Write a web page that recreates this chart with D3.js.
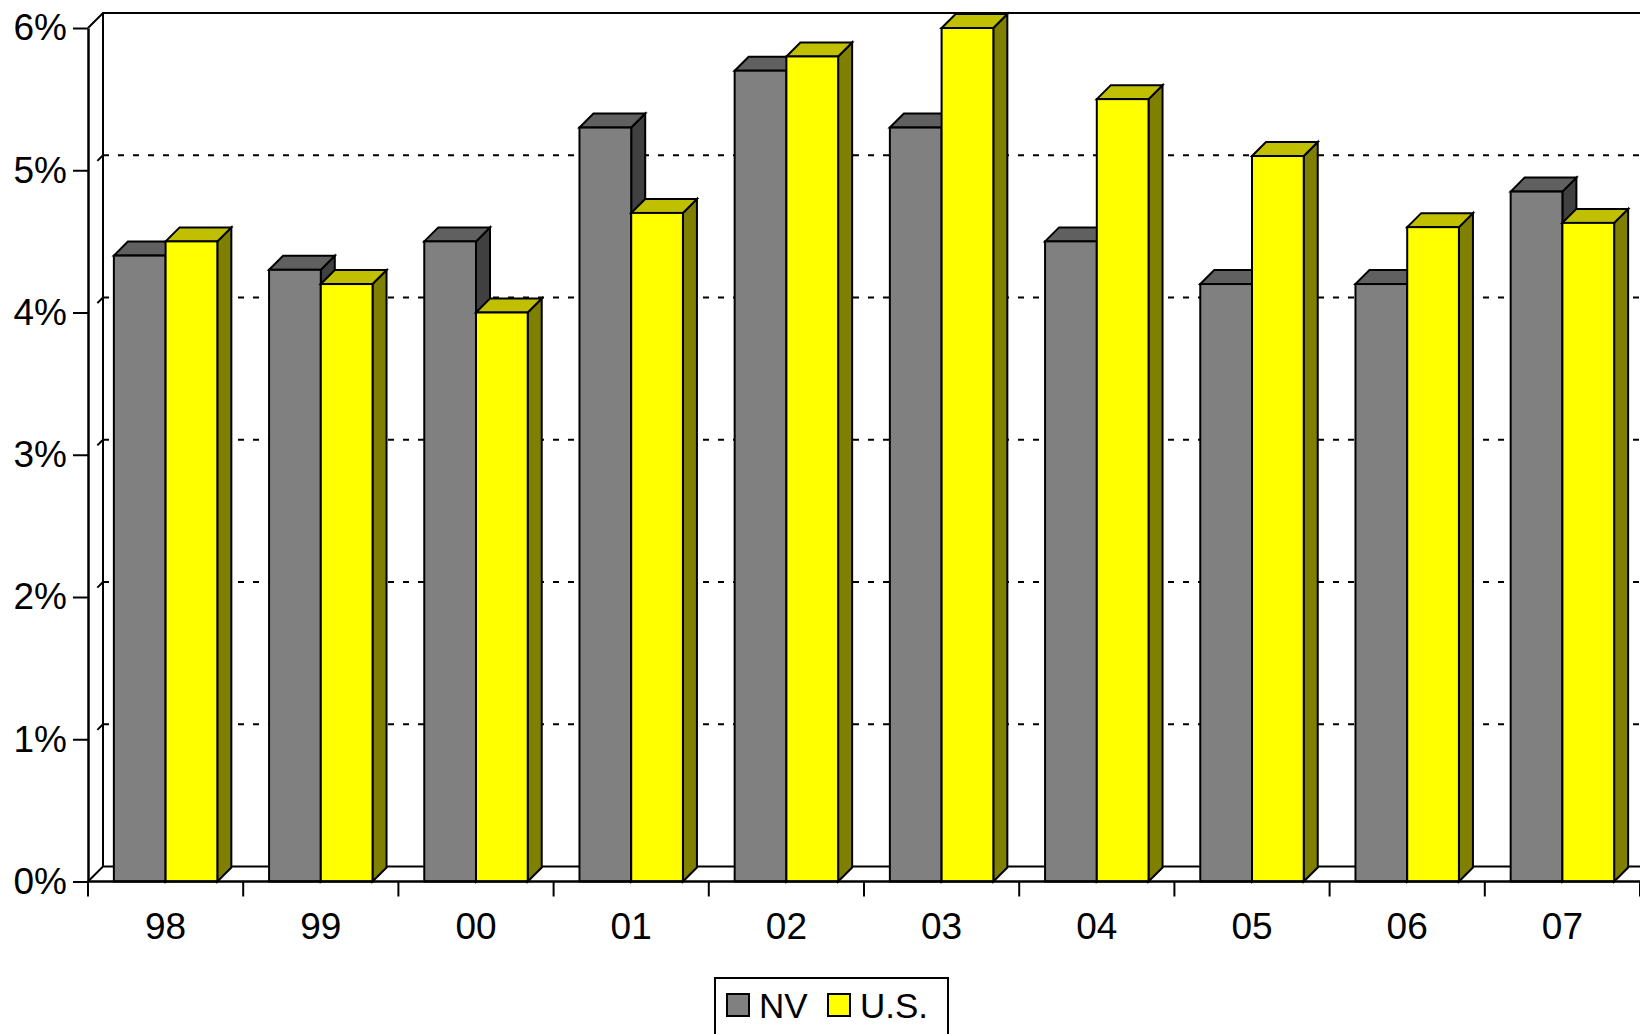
<!DOCTYPE html>
<html><head><meta charset="utf-8">
<script src="https://cdn.jsdelivr.net/npm/d3@7"></script>
<style>html,body{margin:0;padding:0;background:#fff;overflow:hidden}svg{display:block}</style>
</head><body>
<svg id="c" width="1640" height="1034"></svg>
<script>
const categories = ["98","99","00","01","02","03","04","05","06","07"];
const seriesNames = ["NV","U.S."];
const nvValues = [4.4,4.3,4.5,5.3,5.7,5.3,4.5,4.2,4.2,4.85];
const usValues = [4.5,4.2,4.0,4.7,5.8,6.0,5.5,5.1,4.6,4.63];
const yTickValues = [0,1,2,3,4,5,6];

const colors = {
  "NV":   {front:"#808080", top:"#606060", side:"#404040"},
  "U.S.": {front:"#ffff00", top:"#c0c000", side:"#808000"}
};
const FONT = "'Liberation Sans', Arial, sans-serif";
const DW = 15; // wall depth offset
const D = 14;  // bar depth offset

const svg = d3.select("#c");
const y = d3.scaleLinear().domain([0,6]).range([881.5,28]);
const x = d3.scaleBand().domain(categories).range([88, 88+1552]).padding(0);
const xs = d3.scaleBand().domain(seriesNames).range([0, x.bandwidth()]).paddingInner(0).paddingOuter(0.5);
const xRight = x.range()[1];
const L = x.range()[0];

const g = svg.append("g");
// gridlines on back wall and side wall
yTickValues.filter(v => v>0 && v<6).forEach(v => {
  g.append("line").attr("x1", L+DW).attr("x2", xRight+DW)
   .attr("y1", y(v)-DW).attr("y2", y(v)-DW)
   .attr("stroke","#000").attr("stroke-width",2).attr("stroke-dasharray","6,9");
  g.append("line").attr("x1", L+DW).attr("x2", L)
   .attr("y1", y(v)-DW).attr("y2", y(v))
   .attr("stroke","#000").attr("stroke-width",2).attr("stroke-dasharray","8,40");
});
// walls outline
g.append("path").attr("d", `M${L},${y(0)}L${L+DW},${y(0)-DW}L${xRight+DW},${y(0)-DW}`)
 .attr("fill","none").attr("stroke","#000").attr("stroke-width",2);
g.append("path").attr("d", `M${L},${y(6)}L${L+DW},${y(6)-DW}L${xRight+DW},${y(6)-DW}M${L+DW},${y(6)-DW}L${L+DW},${y(0)-DW}`)
 .attr("fill","none").attr("stroke","#000").attr("stroke-width",2);

// bars
const data = [];
categories.forEach((c,i) => {
  data.push({cat:c, s:"NV", v:nvValues[i]});
  data.push({cat:c, s:"U.S.", v:usValues[i]});
});
const bars = svg.append("g").selectAll("g").data(data).join("g");
bars.each(function(d){
  const el = d3.select(this);
  const x0 = x(d.cat) + xs(d.s), x1 = x0 + xs.bandwidth();
  const yt = y(d.v), yb = y(0);
  const col = colors[d.s];
  const side = el.append("path").attr("d", `M${x1},${yb}L${x1+D},${yb-D}L${x1+D},${yt-D}L${x1},${yt}Z`).attr("fill", col.side);
  const top = el.append("path").attr("d", `M${x0},${yt}L${x0+D},${yt-D}L${x1+D},${yt-D}L${x1},${yt}Z`).attr("fill", col.top);
  const front = el.append("rect").attr("x", x0).attr("y", yt).attr("width", x1-x0).attr("height", yb-yt).attr("fill", col.front);
  [side, top, front].forEach(p => p.attr("stroke","#000").attr("stroke-width",2).attr("stroke-linejoin","miter"));
});

// front floor line
svg.append("line").attr("x1", L).attr("x2", xRight+DW).attr("y1", y(0)).attr("y2", y(0))
  .attr("stroke","#000").attr("stroke-width",2.5);

// y axis
const yAxis = d3.axisLeft(y).tickValues(yTickValues).tickFormat(d => d + "%").tickSize(15).tickSizeOuter(0).tickPadding(6);
const ya = svg.append("g").attr("transform", `translate(${L},0)`).call(yAxis);
ya.selectAll("line").attr("stroke","#000").attr("stroke-width",2);
ya.select(".domain").attr("stroke","#000").attr("stroke-width",2.5);
ya.selectAll("text").attr("font-family", FONT).attr("font-size", 37).attr("fill","#000");

// x axis labels
const xAxis = d3.axisBottom(x).tickSize(0).tickPadding(31);
const xa = svg.append("g").attr("transform", `translate(0,${y(0)})`).call(xAxis);
xa.select(".domain").remove();
xa.selectAll("text").attr("font-family", FONT).attr("font-size", 37).attr("fill","#000");
// category boundary ticks
const boundaries = categories.map(c => x(c)).concat([xRight]);
svg.append("g").selectAll("line").data(boundaries).join("line")
  .attr("x1", d=>d).attr("x2", d=>d).attr("y1", y(0)).attr("y2", y(0)+15)
  .attr("stroke","#000").attr("stroke-width",2);

// legend
const lg = svg.append("g");
lg.append("rect").attr("x",715).attr("y",978).attr("width",233).attr("height",80)
  .attr("fill","#fff").attr("stroke","#000").attr("stroke-width",2);
const legendX = [727, 828];
seriesNames.forEach((s,i) => {
  lg.append("rect").attr("x", legendX[i]).attr("y", 994).attr("width", 22).attr("height", 22)
    .attr("fill", colors[s].front).attr("stroke","#000").attr("stroke-width",2);
  lg.append("text").attr("x", legendX[i]+32).attr("y", 1018).text(s)
    .attr("font-family", FONT).attr("font-size", 35).attr("fill","#000");
});
</script>
</body></html>
